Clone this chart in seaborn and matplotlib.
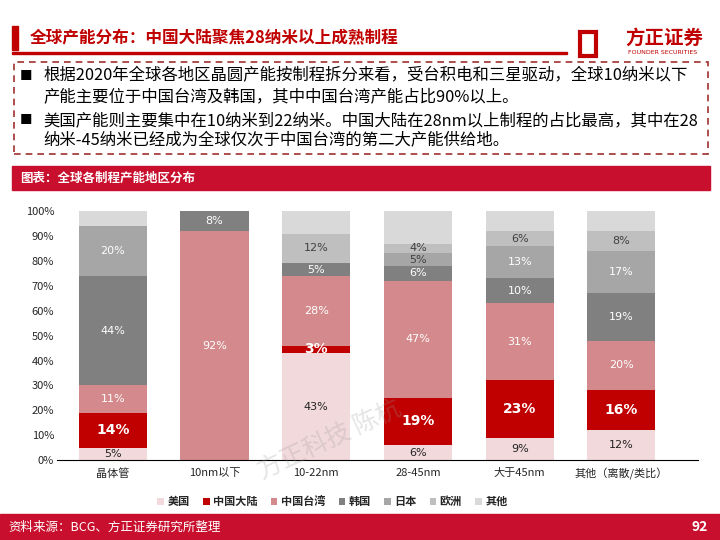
import matplotlib
matplotlib.use("Agg")
import matplotlib.pyplot as plt
import seaborn as sns
import numpy as np
from matplotlib.patches import Rectangle

sns.set_theme(style="white")
plt.rcParams['font.family'] = ['Noto Sans CJK SC', 'DejaVu Sans']

categories = ["晶体管", "10nm以下", "10-22nm", "28-45nm", "大于45nm", "其他（离散/类比）"]
series_names = ["美国", "中国大陆", "中国台湾", "韩国", "日本", "欧洲", "其他"]
us = [5, 0, 43, 6, 9, 12]
cn = [14, 0, 3, 19, 23, 16]
tw = [11, 92, 28, 47, 31, 20]
kr = [44, 8, 5, 6, 10, 19]
jp = [20, 0, 0, 5, 13, 17]
eu = [0, 0, 12, 4, 6, 8]
other = [6, 0, 9, 13, 8, 8]
yticks = [0, 10, 20, 30, 40, 50, 60, 70, 80, 90, 100]

series = [us, cn, tw, kr, jp, eu, other]
colors = ["#f2d9dc", "#c00000", "#d48a8c", "#808080", "#a6a6a6", "#bfbfbf", "#d9d9d9"]
txtcol = ["#222222", "white", "white", "white", "white", "#404040", None]

fig = plt.figure(figsize=(7.2, 5.4), dpi=100)
fig.patch.set_facecolor("white")
ax = fig.add_axes([0.079, 0.148, 0.89, 0.461])

bottom = np.zeros(len(categories))
for i, (name, vals) in enumerate(zip(series_names, series)):
    sns.barplot(x=categories, y=vals, bottom=bottom.copy(), color=colors[i], ax=ax,
                width=0.67, label=name, saturation=1, edgecolor="none")
    if txtcol[i]:
        for j, v in enumerate(vals):
            if v > 0:
                bold = (i == 1)
                c = txtcol[i]
                if i == 4 and v < 8:
                    c = "#404040"
                ax.text(j, bottom[j] + v / 2, f"{v}%", ha="center", va="center",
                        color=c, fontsize=10 if bold else 8,
                        fontweight="bold" if bold else "normal", family="DejaVu Sans")
    bottom += np.array(vals)

ax.set_ylim(0, 100)
ax.set_xlim(-0.55, 5.75)
ax.set_yticks(yticks)
ax.set_yticklabels([f"{t}%" for t in yticks], fontsize=8)
ax.tick_params(axis='x', labelsize=8, length=0, pad=6)
ax.tick_params(axis='y', length=0, pad=2)
for s in ["top", "right", "left"]:
    ax.spines[s].set_visible(False)
ax.spines["bottom"].set_color("black")
ax.spines["bottom"].set_linewidth(0.8)
leg = ax.legend(loc="upper center", bbox_to_anchor=(0.43, -0.1), ncol=7, frameon=False,
                fontsize=8, handlelength=0.6, handleheight=0.6, columnspacing=1.2,
                handletextpad=0.3)
for t in leg.get_texts():
    t.set_fontweight("bold")

# slide decorations
fig.patches.append(Rectangle((12/720, 1-50/540), 6/720, 24/540, transform=fig.transFigure, color="#c00000"))
fig.text(30/720, 1-38/540, "全球产能分布：中国大陆聚焦28纳米以上成熟制程", color="#c00000",
         fontsize=12, fontweight="bold", va="center")
fig.patches.append(Rectangle((12/720, 1-54/540), 555/720, 2/540, transform=fig.transFigure, color="#c00000"))
fig.text(625/720, 1-38/540, "方正证券", color="#c00000", fontsize=14, fontweight="bold", va="center")
fig.text(628/720, 1-53/540, "FOUNDER SECURITIES", color="#c00000", fontsize=4.5, va="center", family="DejaVu Sans")
fig.patches.append(Rectangle((580/720, 1-56/540), 16/720, 24/540, transform=fig.transFigure,
                             fill=False, edgecolor="#c00000", linewidth=3))
fig.patches.append(Rectangle((14/720, 1-154/540), 694/720, 92/540, transform=fig.transFigure,
                             fill=False, edgecolor="#a03030", linewidth=1.2, linestyle=(0, (4, 3))))
lines = [("■", 76, "根据2020年全球各地区晶圆产能按制程拆分来看，受台积电和三星驱动，全球10纳米以下"),
         ("", 97, "产能主要位于中国台湾及韩国，其中中国台湾产能占比90%以上。"),
         ("■", 121, "美国产能则主要集中在10纳米到22纳米。中国大陆在28nm以上制程的占比最高，其中在28"),
         ("", 141, "纳米-45纳米已经成为全球仅次于中国台湾的第二大产能供给地。")]
for b, y, t in lines:
    if b:
        fig.text(20/720, 1-y/540, b, fontsize=9, va="center", color="black")
    fig.text(43/720, 1-y/540, t, fontsize=11.8, va="center", color="black")
fig.patches.append(Rectangle((12/720, 1-190/540), 698/720, 24/540, transform=fig.transFigure, color="#c8102e"))
fig.text(20/720, 1-178/540, "图表：全球各制程产能地区分布", color="white", fontsize=9, fontweight="bold", va="center")
fig.patches.append(Rectangle((0, 0), 1, 26/540, transform=fig.transFigure, color="#c8102e"))
fig.text(8/720, 13/540, "资料来源：BCG、方正证券研究所整理", color="white", fontsize=9, va="center")
fig.text(708/720, 13/540, "92", color="white", fontsize=10, fontweight="bold", va="center", ha="right")
fig.text(330/720, 1-440/540, "方正科技 陈杭", color="#999999", alpha=0.25, fontsize=18, rotation=25,
         ha="center", va="center")

fig.savefig("out.png", dpi=100, facecolor="white")
